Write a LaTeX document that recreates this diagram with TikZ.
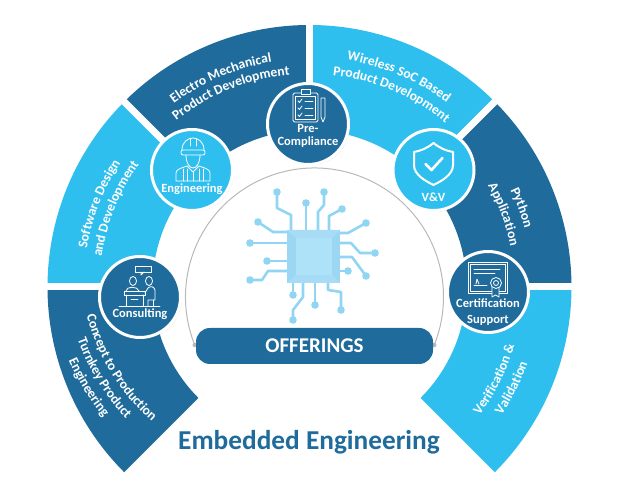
\documentclass[tikz,border=0pt]{standalone}
\usepackage{fontspec}
\setmainfont{Carlito}
\usetikzlibrary{calc,shadows,decorations.text}

\definecolor{offerdark}{HTML}{1F6B9C}
\definecolor{offerlight}{HTML}{2FBFEF}
\definecolor{chipside}{HTML}{9BD6F3}
\definecolor{chipedge}{HTML}{A8DBF5}
\definecolor{chiptop}{HTML}{AEE2F9}
\definecolor{chiplead}{HTML}{90D5F3}

\tikzset{
    hub/.style={circle, draw=white, line width=3pt, minimum size=81pt, inner sep=0pt,
        drop shadow={opacity=0.12, shadow xshift=1.5pt, shadow yshift=-1.5pt}},
    hublabel/.style={text=white, font=\bfseries\fontsize{12.5}{13.5}\selectfont, align=center, inner sep=0pt},
    icon/.style={draw=white, line width=0.8pt, line join=round, line cap=round},
    lead/.style={draw=chiplead, line width=2.6pt, line join=round},
    gapline/.style={draw=white, line width=7pt}
}

\newcommand{\arcfont}{\bfseries\fontsize{13.6}{16}\selectfont}
% arc text: centre, start angle, end angle, baseline radius, text
\newcommand{\arctext}[5]{
    \path[decorate, decoration={text along path, text color=white, text align=center,
        text={|\arcfont|#5}}] (#1) ++(#2:#4) arc (#2:#3:#4);
}

\begin{document}
\begin{tikzpicture}[x=1pt,y=1pt]

    \useasboundingbox (0,0) rectangle (622,502);
    \coordinate (ctr) at (309.5,215);
    \coordinate (ctrlow) at (293,240);
    \coordinate (dome) at (314.5,205);

    % Ring sectors
    \foreach \from/\to/\colr in {180/225/offerdark, 135/180/offerlight, 90/135/offerdark,
                                 45/90/offerlight, 0/45/offerdark, -45/0/offerlight} {
        \fill[\colr] ($(ctr)+(\from:157)$) arc (\from:\to:157)
            -- ($(ctr)+(\to:262)$) arc (\to:\from:262) -- cycle;
    }
    \foreach \a in {0,45,90,135,180} {
        \draw[gapline] ($(ctr)+(\a:150)$) -- ($(ctr)+(\a:270)$);
    }

    % Sector texts
    \arctext{ctr}{143}{83}{228}{Electro Mechanical}
    \arctext{ctr}{142}{82}{213}{Product Development}
    \arctext{ctr}{188.5}{128.5}{226}{Software Design}
    \arctext{ctr}{188}{128}{210}{and Development}
    \arctext{ctr}{97}{37}{230}{Wireless SoC Based}
    \arctext{ctr}{97}{37}{213}{Product Development}
    \arctext{ctr}{50.5}{-9.5}{223}{Python}
    \arctext{ctr}{50.5}{-9.5}{205}{Application}
    \arctext{ctr}{-56.5}{3.5}{213}{Verification {\&}}
    \arctext{ctr}{-56.5}{3.5}{231}{Validation}
    \arctext{ctrlow}{181.5}{241.5}{213}{Concept to Production}
    \arctext{ctrlow}{181.5}{241.5}{229}{Turnkey Product}
    \arctext{ctrlow}{181.5}{241.5}{245}{Engineering}

    % Grey half circle
    \draw[black!28, line width=1pt] (dome) ++(201.8:129) arc (201.8:-21.8:129);
    \fill[black!28] (194.7,157) circle (2.2);
    \fill[black!28] (434.3,157) circle (2.2);

    % Chip
    \begin{scope}[shift={(0,502)},yscale=-1]
        \foreach \pts in {
            {(291,230) -- (291,215) -- (277,208) -- (277,192)},
            {(306,230) -- (306,203)},
            {(318,230) -- (318,212) -- (324,205) -- (324,192)},
            {(329,230) -- (329,216) -- (342,209)},
            {(340,233) -- (348,233) -- (366,223)},
            {(340,243) -- (351,243) -- (360,253) -- (375,253)},
            {(340,257) -- (352,257) -- (366,276)},
            {(340,271) -- (348,271)},
            {(293,283) -- (293,295)},
            {(303,283) -- (303,297) -- (293,310) -- (293,320)},
            {(315,283) -- (315,305)},
            {(328,283) -- (328,290) -- (341,292) -- (341,310)},
            {(287,232) -- (273,232) -- (258,222)},
            {(287,243) -- (250,243)},
            {(287,261) -- (267,261)},
            {(287,271) -- (268,271) -- (262,280) -- (250,280)}} {
            \draw[lead] \pts;
        }
        \foreach \x/\y in {277/192,306/203,324/192,342/209,366/223,375/253,366/276,348/271,
                           293/295,293/320,315/305,341/310,258/222,250/243,267/261,250/280} {
            \fill[chiplead] (\x,\y) circle (3.8);
        }
        \fill[chipside] (287,230) rectangle (340,283);
        \fill[chipedge] (287,230) -- (340,230) -- (332,238) -- (296,238) -- cycle;
        \fill[chipedge] (287,283) -- (340,283) -- (332,275) -- (296,275) -- cycle;
        \fill[chiptop] (296,238) rectangle (332,275);
    \end{scope}

    % Offerings bar and title
    \node[fill=offerdark, rounded corners=14pt, minimum width=237pt, minimum height=36pt,
        text=white, font=\bfseries\fontsize{21}{24}\selectfont, inner sep=0pt] (offerings) at (314.5,156) {OFFERINGS};
    \node[text=offerdark, font=\bfseries\fontsize{27.3}{32}\selectfont, inner sep=0pt] (title) at (309,60) {Embedded Engineering};

    % Hubs
    \node[hub, fill=offerdark] (consulting) at (140,205) {};
    \node[hub, fill=offerlight] (engineering) at (192,332) {};
    \node[hub, fill=offerdark] (precompliance) at (308,378) {};
    \node[hub, fill=offerlight] (vandv) at (433.5,332) {};
    \node[hub, fill=offerdark] (certification) at (488,210) {};

    \node[hublabel] (consultinglabel) at ([yshift=-17pt]consulting.center) {Consulting};
    \node[hublabel] (engineeringlabel) at ([yshift=-19pt]engineering.center) {Engineering};
    \node[hublabel] (precompliancelabel) at ([yshift=-12pt]precompliance.center) {Pre-\\Compliance};
    \node[hublabel] (vandvlabel) at ([yshift=-27pt]vandv.center) {V\&V};
    \node[hublabel, font=\bfseries\fontsize{12.5}{15.5}\selectfont] (certificationlabel) at ([yshift=-20pt]certification.center) {Certification\\Support};

    % Engineer icon
    \begin{scope}[shift={(engineering.center)}]
        \draw[icon, rounded corners=2pt] (-11,15) rectangle (13,20);
        \draw[icon] (-10,20) .. controls (-10,28) and (-4,32) .. (1,32) .. controls (6,32) and (12,28) .. (12,20);
        \draw[icon] (-2,24) -- (-2,31) (4,24) -- (4,31);
        \draw[icon] (-6,15) .. controls (-6,6) and (-2,2) .. (1,2) .. controls (4,2) and (8,6) .. (8,15);
        \draw[icon] (-16,-11) -- (-16,-3) .. controls (-16,1) and (-10,2) .. (-5,4) -- (1,-2) -- (7,4)
            .. controls (12,2) and (18,1) .. (18,-3) -- (18,-11) -- cycle;
        \draw[icon] (-9,-11) -- (-9,1) (-5,-11) -- (-5,1) (7,-11) -- (7,1) (11,-11) -- (11,1) (1,-11) -- (1,-2);
    \end{scope}

    % Clipboard icon
    \begin{scope}[shift={(precompliance.center)}]
        \draw[icon, rounded corners=1.5pt] (-15,31) rectangle (10,2);
        \draw[icon] (-12.5,28) rectangle (7.5,5);
        \draw[icon, fill=offerdark] (-7,30) rectangle (2,35);
        \foreach \y in {23,16,9} {
            \draw[icon] (-10,\y) -- (-8.5,\y-1.5) -- (-6,\y+2);
            \draw[icon] (-3,\y) -- (5,\y);
        }
        \draw[icon] (13,26) -- (17,26) -- (17,7) -- (15,2) -- (13,7) -- cycle;
    \end{scope}

    % Consulting icon
    \begin{scope}[shift={(consulting.center)}]
        \draw[icon] (-21,-9) -- (20,-9);
        \draw[icon] (-5,31) rectangle (11,25);
        \draw[icon] (1,25) -- (1,22) -- (4,25);
        \draw[icon] (-7,16) ellipse (3.5 and 4.5);
        \draw[icon] (9,16) ellipse (3.5 and 4.5);
        \draw[icon] (-16,6) rectangle (5,2);
        \draw[icon] (-14,2) -- (-14,-9) (3,2) -- (3,-9) (-9,-2) -- (-2,-2);
        \draw[icon] (-14,6) .. controls (-14,11) and (-2,11) .. (-1,6);
        \draw[icon] (5,4) -- (8,9) .. controls (10,11) and (14,11) .. (15,7) -- (15,-3) -- (8,-3) -- (8,-9);
        \draw[icon] (13,-3) -- (13,-9);
    \end{scope}

    % Shield icon
    \begin{scope}[shift={(vandv.center)}]
        \draw[draw=white, line width=2pt, line join=round] (0,27) .. controls (6,22) and (13,19) .. (19.5,18)
            -- (19.5,5) .. controls (19.5,-5) and (8,-11) .. (0,-15)
            .. controls (-8,-11) and (-19.5,-5) .. (-19.5,5) -- (-19.5,18) .. controls (-13,19) and (-6,22) .. cycle;
        \draw[draw=white, line width=2.6pt, line join=round, line cap=round] (-8,6) -- (-2,0) -- (9,12);
    \end{scope}

    % Certificate icon
    \begin{scope}[shift={(certification.center)}]
        \draw[icon] (-20,30) rectangle (19,-1);
        \draw[icon] (-18,28) rectangle (17,1);
        \draw[icon] (-14,23) -- (12,23) (-14,19) -- (7,19);
        \draw[icon] (-14,7) -- (-1,7);
        \draw[icon] (-12,8) -- (-11,13) -- (-9,8);
        \draw[icon, fill=offerdark] (4,6) -- (4,-5) -- (7.5,-3) -- (11,-5) -- (11,6) -- cycle;
        \draw[icon, fill=offerdark] (8,9) circle (5.5);
        \draw[icon] (8,9) circle (2.5);
    \end{scope}

\end{tikzpicture}
\end{document}
